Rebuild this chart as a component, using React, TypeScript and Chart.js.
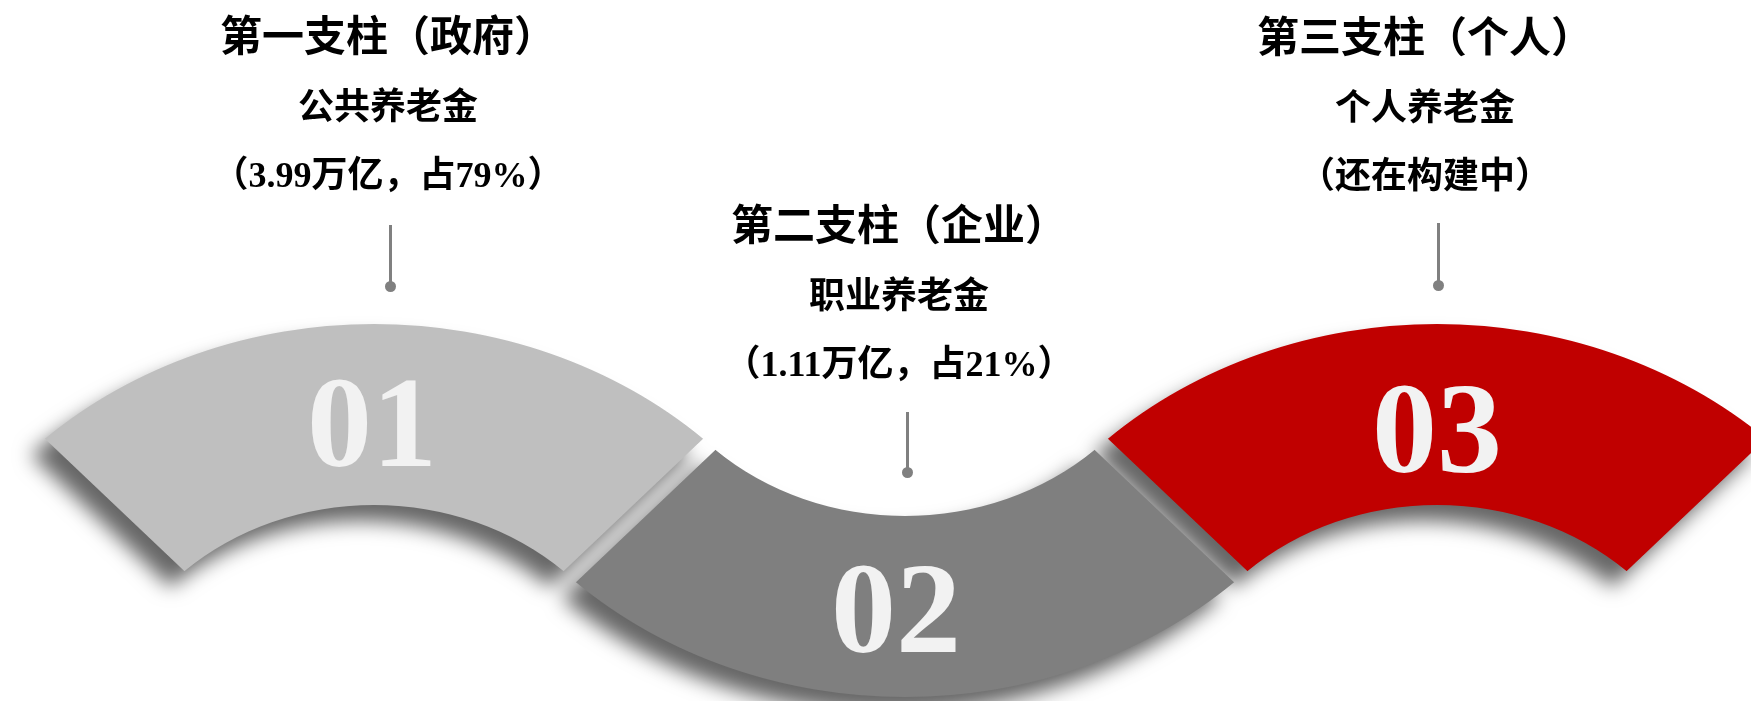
import React, { useEffect, useRef } from 'react';
import { Chart, registerables } from 'chart.js';

Chart.register(...registerables);

// ---- data ----
const pillars = ['第一支柱（政府）', '第二支柱（企业）', '第三支柱（个人）'];
const funds = ['公共养老金', '职业养老金', '个人养老金'];
const amountsTrillion: (number | null)[] = [3.99, 1.11, null];
const sharesPct: (number | null)[] = [79, 21, null];
const pendingNote = '（还在构建中）';
const badgeLabels = ['01', '02', '03'];
const arcSpanDeg = [86, 86, 86];

// ---- styles / layout ----
const arcColors = ['#bfbfbf', '#7f7f7f', '#c00000'];
const OUTER_R = 427;
const INNER_R = 246;
const STRETCH_X = 1.13;
const arcLayout = [
  { cx: 374, cy: 751, up: true },
  { cx: 905, cy: 270, up: false },
  { cx: 1437, cy: 751, up: true },
];
const badgeLayout = [
  { x: 372, y: 422 },
  { x: 896, y: 608 },
  { x: 1437, y: 428 },
];
const textLayout = [
  { x: 388, y: 37 },
  { x: 899, y: 226 },
  { x: 1425, y: 38 },
];
const lineGaps = [0, 70, 138];
const connectorLayout = [
  { x: 390, y1: 225, y2: 286 },
  { x: 907, y1: 412, y2: 472 },
  { x: 1438, y1: 223, y2: 285 },
];

const FONT = '"Liberation Serif", "Noto Sans CJK SC", sans-serif';

function noteFor(i: number): string {
  const a = amountsTrillion[i];
  const s = sharesPct[i];
  if (a === null || s === null) return pendingNote;
  return `（${a}万亿，占${s}%）`;
}

function ArcCanvas({ index }: { index: number }) {
  const ref = useRef<HTMLCanvasElement>(null);
  const lay = arcLayout[index];
  useEffect(() => {
    const span = arcSpanDeg[index];
    const chart = new Chart(ref.current as HTMLCanvasElement, {
      type: 'doughnut',
      data: {
        labels: [badgeLabels[index], ''],
        datasets: [
          {
            data: [span, 360 - span],
            backgroundColor: [arcColors[index], 'rgba(0,0,0,0)'],
            borderWidth: 0,
            hoverOffset: 0,
            offset: 0,
          },
        ],
      },
      options: {
        responsive: false,
        animation: false,
        devicePixelRatio: 2,
        events: [],
        cutout: `${(INNER_R / OUTER_R) * 100}%`,
        rotation: (lay.up ? 0 : 180) - span / 2,
        circumference: 360,
        layout: { padding: 0 },
        plugins: {
          legend: { display: false },
          tooltip: { enabled: false },
        },
      } as any,
    });
    return () => chart.destroy();
  }, [index]);
  return (
    <canvas
      ref={ref}
      width={OUTER_R * 2}
      height={OUTER_R * 2}
      style={{
        position: 'absolute',
        left: lay.cx - OUTER_R,
        top: lay.cy - OUTER_R,
        transform: `scaleX(${STRETCH_X})`,
        transformOrigin: 'center center',
      }}
    />
  );
}

function TextLine({ x, y, size, children }: { x: number; y: number; size: number; children: React.ReactNode }) {
  return (
    <div
      style={{
        position: 'absolute',
        left: x,
        top: y,
        transform: 'translate(-50%, -50%)',
        fontFamily: FONT,
        fontWeight: 'bold',
        fontSize: size,
        lineHeight: 1,
        whiteSpace: 'nowrap',
        color: '#000',
      }}
    >
      {children}
    </div>
  );
}

export default function App() {
  return (
    <div
      style={{
        position: 'fixed',
        left: 0,
        top: 0,
        width: 1751,
        height: 701,
        overflow: 'hidden',
        background: '#ffffff',
      }}
    >
      <div
        style={{
          position: 'absolute',
          inset: 0,
          filter: 'drop-shadow(-14px 16px 10px rgba(0,0,0,0.6))',
        }}
      >
        {arcLayout.map((_, i) => (
          <ArcCanvas key={i} index={i} />
        ))}
      </div>

      {badgeLabels.map((b, i) => (
        <div
          key={'b' + i}
          style={{
            position: 'absolute',
            left: badgeLayout[i].x,
            top: badgeLayout[i].y,
            transform: 'translate(-50%, -50%)',
            fontFamily: '"Liberation Serif", serif',
            fontWeight: 'bold',
            fontSize: 130,
            lineHeight: 1,
            color: '#f2f2f2',
            whiteSpace: 'nowrap',
          }}
        >
          {b}
        </div>
      ))}

      {connectorLayout.map((c, i) => (
        <React.Fragment key={'c' + i}>
          <div
            style={{
              position: 'absolute',
              left: c.x - 1.5,
              top: c.y1,
              width: 3,
              height: c.y2 - c.y1,
              background: '#808080',
            }}
          />
          <div
            style={{
              position: 'absolute',
              left: c.x - 5.5,
              top: c.y2 - 5.5,
              width: 11,
              height: 11,
              borderRadius: '50%',
              background: '#808080',
            }}
          />
        </React.Fragment>
      ))}

      {pillars.map((p, i) => (
        <React.Fragment key={'t' + i}>
          <TextLine x={textLayout[i].x} y={textLayout[i].y + lineGaps[0]} size={42}>
            {p}
          </TextLine>
          <TextLine x={textLayout[i].x} y={textLayout[i].y + lineGaps[1]} size={36}>
            {funds[i]}
          </TextLine>
          <TextLine x={textLayout[i].x} y={textLayout[i].y + lineGaps[2]} size={36}>
            {noteFor(i)}
          </TextLine>
        </React.Fragment>
      ))}
    </div>
  );
}
